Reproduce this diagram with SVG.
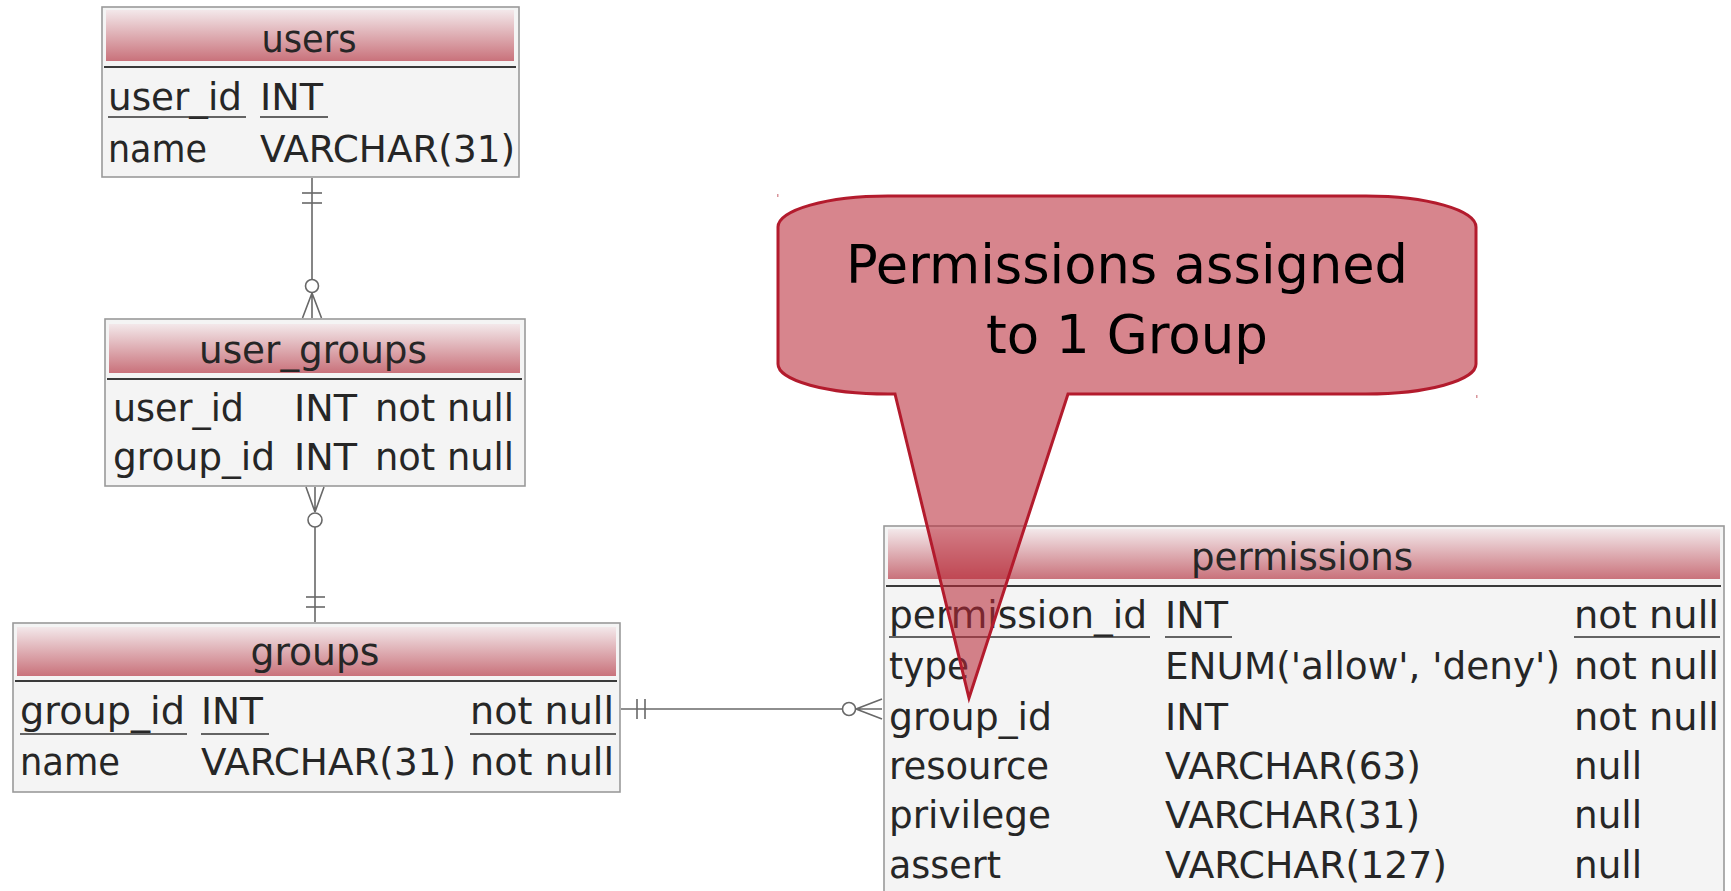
<svg xmlns="http://www.w3.org/2000/svg" width="1731" height="891" viewBox="0 0 1731 891">
  <defs>
    <linearGradient id="hdr" x1="0" y1="0" x2="0" y2="1">
      <stop offset="0" stop-color="#f3e8ea"/>
      <stop offset="1" stop-color="#c9727b"/>
    </linearGradient>
    <style>
      .box { fill: #f4f4f4; stroke: #9a9a9a; stroke-width: 1.6; }
      .hdr { fill: url(#hdr); }
      .sep { stroke: #3a3a3a; stroke-width: 2; }
      .ul { stroke: #333; stroke-width: 1.6; }
      text { font-family: "DejaVu Sans", "Liberation Sans", sans-serif; font-size: 36.5px; fill: #262626; }
      .t { text-anchor: middle; }
      .conn { stroke: #686868; stroke-width: 1.6; fill: none; }
      .ring { stroke: #686868; stroke-width: 1.6; fill: #ffffff; }
      .callout { fill: #b92837; fill-opacity: 0.57; stroke: #b31b2d; stroke-width: 3; stroke-linejoin: miter; }
      .note { font-size: 53px; fill: #000; text-anchor: middle; }
    </style>
  </defs>

  <rect width="1731" height="891" fill="#ffffff"/>

  <!-- users -->
  <g id="users">
    <rect class="box" x="102" y="7" width="417" height="170"/>
    <rect class="hdr" x="106" y="10" width="408" height="51"/>
    <line class="sep" x1="104" y1="67" x2="516" y2="67"/>
    <text class="t" x="309" y="52" textLength="95" lengthAdjust="spacingAndGlyphs">users</text>
    <text x="108" y="110" textLength="134" lengthAdjust="spacingAndGlyphs">user_id</text>
    <line class="ul" x1="108" y1="117" x2="246" y2="117"/>
    <text x="260" y="110" textLength="63" lengthAdjust="spacingAndGlyphs">INT</text>
    <line class="ul" x1="260" y1="117" x2="328" y2="117"/>
    <text x="108" y="162" textLength="99" lengthAdjust="spacingAndGlyphs">name</text>
    <text x="260" y="162" textLength="255" lengthAdjust="spacingAndGlyphs">VARCHAR(31)</text>
  </g>

  <!-- user_groups -->
  <g id="user_groups">
    <rect class="box" x="105" y="319" width="420" height="167"/>
    <rect class="hdr" x="109" y="324" width="411" height="49"/>
    <line class="sep" x1="107" y1="379" x2="522" y2="379"/>
    <text class="t" x="313" y="363" textLength="228" lengthAdjust="spacingAndGlyphs">user_groups</text>
    <text x="113" y="421" textLength="131" lengthAdjust="spacingAndGlyphs">user_id</text>
    <text x="294" y="421" textLength="63" lengthAdjust="spacingAndGlyphs">INT</text>
    <text x="375" y="421" textLength="139" lengthAdjust="spacingAndGlyphs">not null</text>
    <text x="113" y="470" textLength="162" lengthAdjust="spacingAndGlyphs">group_id</text>
    <text x="294" y="470" textLength="63" lengthAdjust="spacingAndGlyphs">INT</text>
    <text x="375" y="470" textLength="139" lengthAdjust="spacingAndGlyphs">not null</text>
  </g>

  <!-- groups -->
  <g id="groups">
    <rect class="box" x="13" y="623" width="607" height="169"/>
    <rect class="hdr" x="17" y="627" width="599" height="49"/>
    <line class="sep" x1="15" y1="681" x2="617" y2="681"/>
    <text class="t" x="315" y="665" textLength="129" lengthAdjust="spacingAndGlyphs">groups</text>
    <text x="20" y="724" textLength="165" lengthAdjust="spacingAndGlyphs">group_id</text>
    <line class="ul" x1="20" y1="734" x2="187" y2="734"/>
    <text x="201" y="724" textLength="62" lengthAdjust="spacingAndGlyphs">INT</text>
    <line class="ul" x1="201" y1="734" x2="269" y2="734"/>
    <text x="470" y="724" textLength="144" lengthAdjust="spacingAndGlyphs">not null</text>
    <line class="ul" x1="470" y1="734" x2="616" y2="734"/>
    <text x="20" y="775" textLength="100" lengthAdjust="spacingAndGlyphs">name</text>
    <text x="201" y="775" textLength="255" lengthAdjust="spacingAndGlyphs">VARCHAR(31)</text>
    <text x="470" y="775" textLength="144" lengthAdjust="spacingAndGlyphs">not null</text>
  </g>

  <!-- permissions -->
  <g id="permissions">
    <rect class="box" x="884" y="526" width="840" height="380"/>
    <rect class="hdr" x="888" y="529" width="832" height="50"/>
    <line class="sep" x1="886" y1="586" x2="1721" y2="586"/>
    <text class="t" x="1302" y="570" textLength="222" lengthAdjust="spacingAndGlyphs">permissions</text>
    <text x="889" y="628" textLength="258" lengthAdjust="spacingAndGlyphs">permission_id</text>
    <line class="ul" x1="889" y1="637" x2="1150" y2="637"/>
    <text x="1165" y="628" textLength="63" lengthAdjust="spacingAndGlyphs">INT</text>
    <line class="ul" x1="1165" y1="637" x2="1232" y2="637"/>
    <text x="1574" y="628" textLength="145" lengthAdjust="spacingAndGlyphs">not null</text>
    <line class="ul" x1="1574" y1="637" x2="1720" y2="637"/>
    <text x="889" y="679" textLength="80" lengthAdjust="spacingAndGlyphs">type</text>
    <text x="1165" y="679" textLength="395" lengthAdjust="spacingAndGlyphs">ENUM('allow', 'deny')</text>
    <text x="1574" y="679" textLength="145" lengthAdjust="spacingAndGlyphs">not null</text>
    <text x="889" y="730" textLength="163" lengthAdjust="spacingAndGlyphs">group_id</text>
    <text x="1165" y="730" textLength="63" lengthAdjust="spacingAndGlyphs">INT</text>
    <text x="1574" y="730" textLength="145" lengthAdjust="spacingAndGlyphs">not null</text>
    <text x="889" y="779" textLength="160" lengthAdjust="spacingAndGlyphs">resource</text>
    <text x="1165" y="779" textLength="256" lengthAdjust="spacingAndGlyphs">VARCHAR(63)</text>
    <text x="1574" y="779" textLength="68" lengthAdjust="spacingAndGlyphs">null</text>
    <text x="889" y="828" textLength="162" lengthAdjust="spacingAndGlyphs">privilege</text>
    <text x="1165" y="828" textLength="255" lengthAdjust="spacingAndGlyphs">VARCHAR(31)</text>
    <text x="1574" y="828" textLength="68" lengthAdjust="spacingAndGlyphs">null</text>
    <text x="889" y="878" textLength="112" lengthAdjust="spacingAndGlyphs">assert</text>
    <text x="1165" y="878" textLength="282" lengthAdjust="spacingAndGlyphs">VARCHAR(127)</text>
    <text x="1574" y="878" textLength="68" lengthAdjust="spacingAndGlyphs">null</text>
  </g>

  <!-- relationships in crow's foot notation -->
  <g id="connectors">
    <!-- users (exactly one) to user_groups (zero or many) -->
    <line class="conn" x1="312" y1="178" x2="312" y2="279"/>
    <line class="conn" x1="302" y1="193" x2="322" y2="193"/>
    <line class="conn" x1="302" y1="203" x2="322" y2="203"/>
    <circle class="ring" cx="312" cy="286" r="6.5"/>
    <path class="conn" d="M312,293 L302.5,318 M312,293 L321.5,318 M312,293 L312,318"/>

    <!-- user_groups (zero or many) to groups (exactly one) -->
    <path class="conn" d="M315,512 L306,487 M315,512 L324,487 M315,512 L315,487"/>
    <circle class="ring" cx="315" cy="520" r="7"/>
    <line class="conn" x1="315" y1="527" x2="315" y2="622"/>
    <line class="conn" x1="306" y1="597" x2="325" y2="597"/>
    <line class="conn" x1="306" y1="607" x2="325" y2="607"/>

    <!-- groups (exactly one) to permissions (zero or many) -->
    <line class="conn" x1="621" y1="709" x2="842.5" y2="709"/>
    <line class="conn" x1="637" y1="699" x2="637" y2="719"/>
    <line class="conn" x1="645" y1="699" x2="645" y2="719"/>
    <circle class="ring" cx="849" cy="709" r="6.5"/>
    <path class="conn" d="M856,709 L882,699 M856,709 L882,719 M856,709 L882,709"/>
  </g>

  <!-- note callout -->
  <g id="note">
    <path class="callout" d="M778,227 A110,31 0 0 1 888,196 L1366,196 A110,31 0 0 1 1476,227 L1476,364 A110,30 0 0 1 1366,394 L1068,394 L969,698 L895,394 L888,394 A110,30 0 0 1 778,364 Z"/>
    <rect x="777" y="194" width="1.5" height="3" fill="#d9959b"/>
    <rect x="1476" y="395" width="1.5" height="3" fill="#d9959b"/>
    <text class="note" x="1127" y="283" textLength="562" lengthAdjust="spacingAndGlyphs">Permissions assigned</text>
    <text class="note" x="1127" y="353" textLength="282" lengthAdjust="spacingAndGlyphs">to 1 Group</text>
  </g>
</svg>
